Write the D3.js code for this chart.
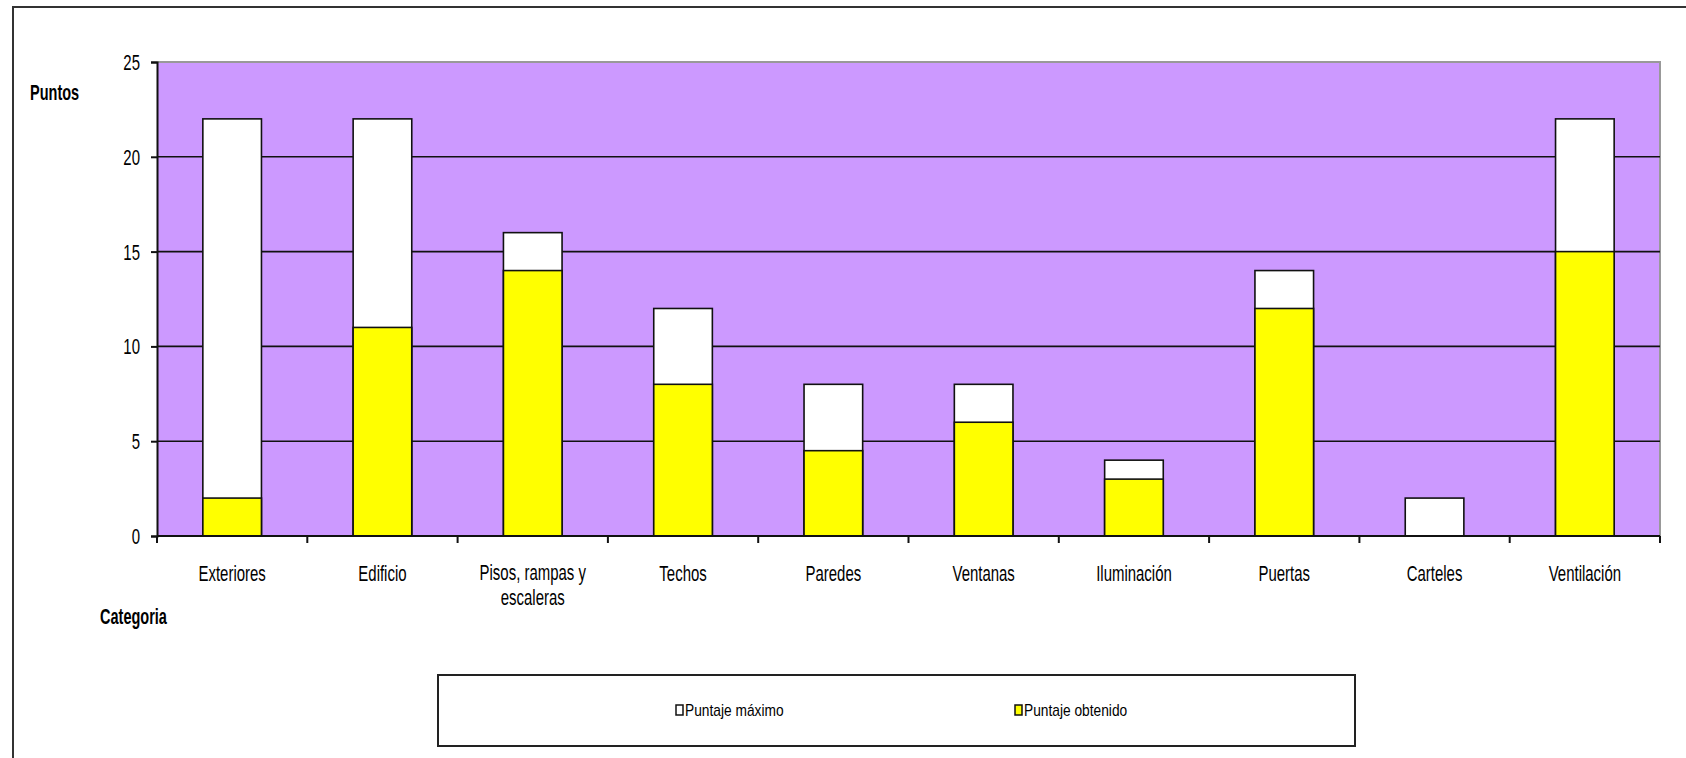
<!DOCTYPE html>
<html>
<head>
  <meta charset="utf-8">
  <title>Puntaje por categoria</title>
  <script src="https://d3js.org/d3.v7.min.js"></script>
  <style>
    body { margin: 0; background: #fff; }
    svg text { font-family: "Liberation Sans", Arial, sans-serif; fill: #000; }
  </style>
</head>
<body>
  <svg width="1686" height="758"></svg>
  <script>
    // chart data
    const categories = ["Exteriores", "Edificio", "Pisos, rampas y escaleras", "Techos", "Paredes",
                        "Ventanas", "Iluminación", "Puertas", "Carteles", "Ventilación"];
    const puntajeMaximo = [22, 22, 16, 12, 8, 8, 4, 14, 2, 22];
    const puntajeObtenido = [2, 11, 14, 8, 4.5, 6, 3, 12, 0, 15];
    const yTicks = [0, 5, 10, 15, 20, 25];
    const seriesNames = ["Puntaje máximo", "Puntaje obtenido"];
    const seriesColors = ["#ffffff", "#ffff00"];

    const svg = d3.select("svg");
    const plot = { left: 157, right: 1660, top: 62, bottom: 536 };

    // outer frame (right and bottom edges fall outside the picture)
    svg.append("path")
      .attr("d", "M13,760 L13,7 L1690,7")
      .attr("fill", "none")
      .attr("stroke", "#333")
      .attr("stroke-width", 2);

    const x = d3.scaleBand().domain(categories).range([plot.left, plot.right]).padding(0);
    const y = d3.scaleLinear().domain([0, 25]).range([plot.bottom, plot.top]);
    const barW = x.bandwidth() * 0.39;

    // condensed looking text: scale glyphs horizontally
    function label(g, px, py, str, anchor, size, sx, weight) {
      const t = g.append("g").attr("transform", `translate(${px},${py}) scale(${sx},1)`)
        .append("text")
        .attr("text-anchor", anchor)
        .style("font-size", size + "px")
        .style("font-weight", weight || "normal")
        .text(str);
      return t;
    }

    // plot background
    svg.append("rect")
      .attr("x", plot.left).attr("y", plot.top)
      .attr("width", plot.right - plot.left).attr("height", plot.bottom - plot.top)
      .attr("fill", "#cc99ff");
    svg.append("path")
      .attr("d", `M${plot.left},${plot.top} H${plot.right} V${plot.bottom}`)
      .attr("fill", "none").attr("stroke", "#999").attr("stroke-width", 2);

    // gridlines
    svg.append("g").selectAll("line")
      .data(yTicks.filter(d => d > 0 && d < 25))
      .join("line")
      .attr("x1", plot.left).attr("x2", plot.right)
      .attr("y1", d => y(d)).attr("y2", d => y(d))
      .attr("stroke", "#111").attr("stroke-width", 1.6);

    // bars: max behind, obtained in front
    [puntajeMaximo, puntajeObtenido].forEach((vals, si) => {
      svg.append("g").selectAll("rect")
        .data(categories.map((c, i) => ({ c, v: vals[i] })).filter(d => d.v > 0))
        .join("rect")
        .attr("x", d => x(d.c) + (x.bandwidth() - barW) / 2)
        .attr("width", barW)
        .attr("y", d => y(d.v))
        .attr("height", d => y(0) - y(d.v))
        .attr("fill", seriesColors[si])
        .attr("stroke", "#111")
        .attr("stroke-width", 1.6);
    });

    // y axis
    const yAxis = d3.axisLeft(y).tickValues(yTicks).tickSize(6).tickFormat("");
    const ya = svg.append("g").attr("transform", `translate(${plot.left},0)`).call(yAxis);
    ya.select(".domain").attr("stroke", "#111").attr("stroke-width", 2);
    ya.selectAll(".tick line").attr("stroke", "#111").attr("stroke-width", 2);
    yTicks.forEach(v => label(svg, 140, y(v) + 8, String(v), "end", 22, 0.68));

    // x axis: ticks at category boundaries
    const xa = svg.append("g");
    xa.append("line")
      .attr("x1", plot.left).attr("x2", plot.right)
      .attr("y1", plot.bottom).attr("y2", plot.bottom)
      .attr("stroke", "#111").attr("stroke-width", 2);
    xa.selectAll("line.tk")
      .data(categories.concat(["_end"]))
      .join("line").attr("class", "tk")
      .attr("x1", (d, i) => plot.left + i * x.bandwidth())
      .attr("x2", (d, i) => plot.left + i * x.bandwidth())
      .attr("y1", plot.bottom).attr("y2", plot.bottom + 7)
      .attr("stroke", "#111").attr("stroke-width", 2);

    categories.forEach(c => {
      const cx = x(c) + x.bandwidth() / 2;
      if (c === "Pisos, rampas y escaleras") {
        label(svg, cx, 580, "Pisos, rampas y", "middle", 22, 0.68);
        label(svg, cx, 605, "escaleras", "middle", 22, 0.68);
      } else {
        label(svg, cx, 581, c, "middle", 22, 0.68);
      }
    });

    // axis titles
    label(svg, 30, 100, "Puntos", "start", 22, 0.66, "bold");
    label(svg, 100, 624, "Categoria", "start", 22, 0.66, "bold");

    // legend
    svg.append("rect")
      .attr("x", 438).attr("y", 675).attr("width", 917).attr("height", 71)
      .attr("fill", "#fff").attr("stroke", "#222").attr("stroke-width", 2);
    const legX = [676, 1015];
    seriesNames.forEach((n, i) => {
      svg.append("rect")
        .attr("x", legX[i]).attr("y", 705).attr("width", 7).attr("height", 10)
        .attr("fill", seriesColors[i]).attr("stroke", "#111").attr("stroke-width", 1.5);
      label(svg, legX[i] + 9, 716, n, "start", 16, 0.86);
    });
  </script>
</body>
</html>
